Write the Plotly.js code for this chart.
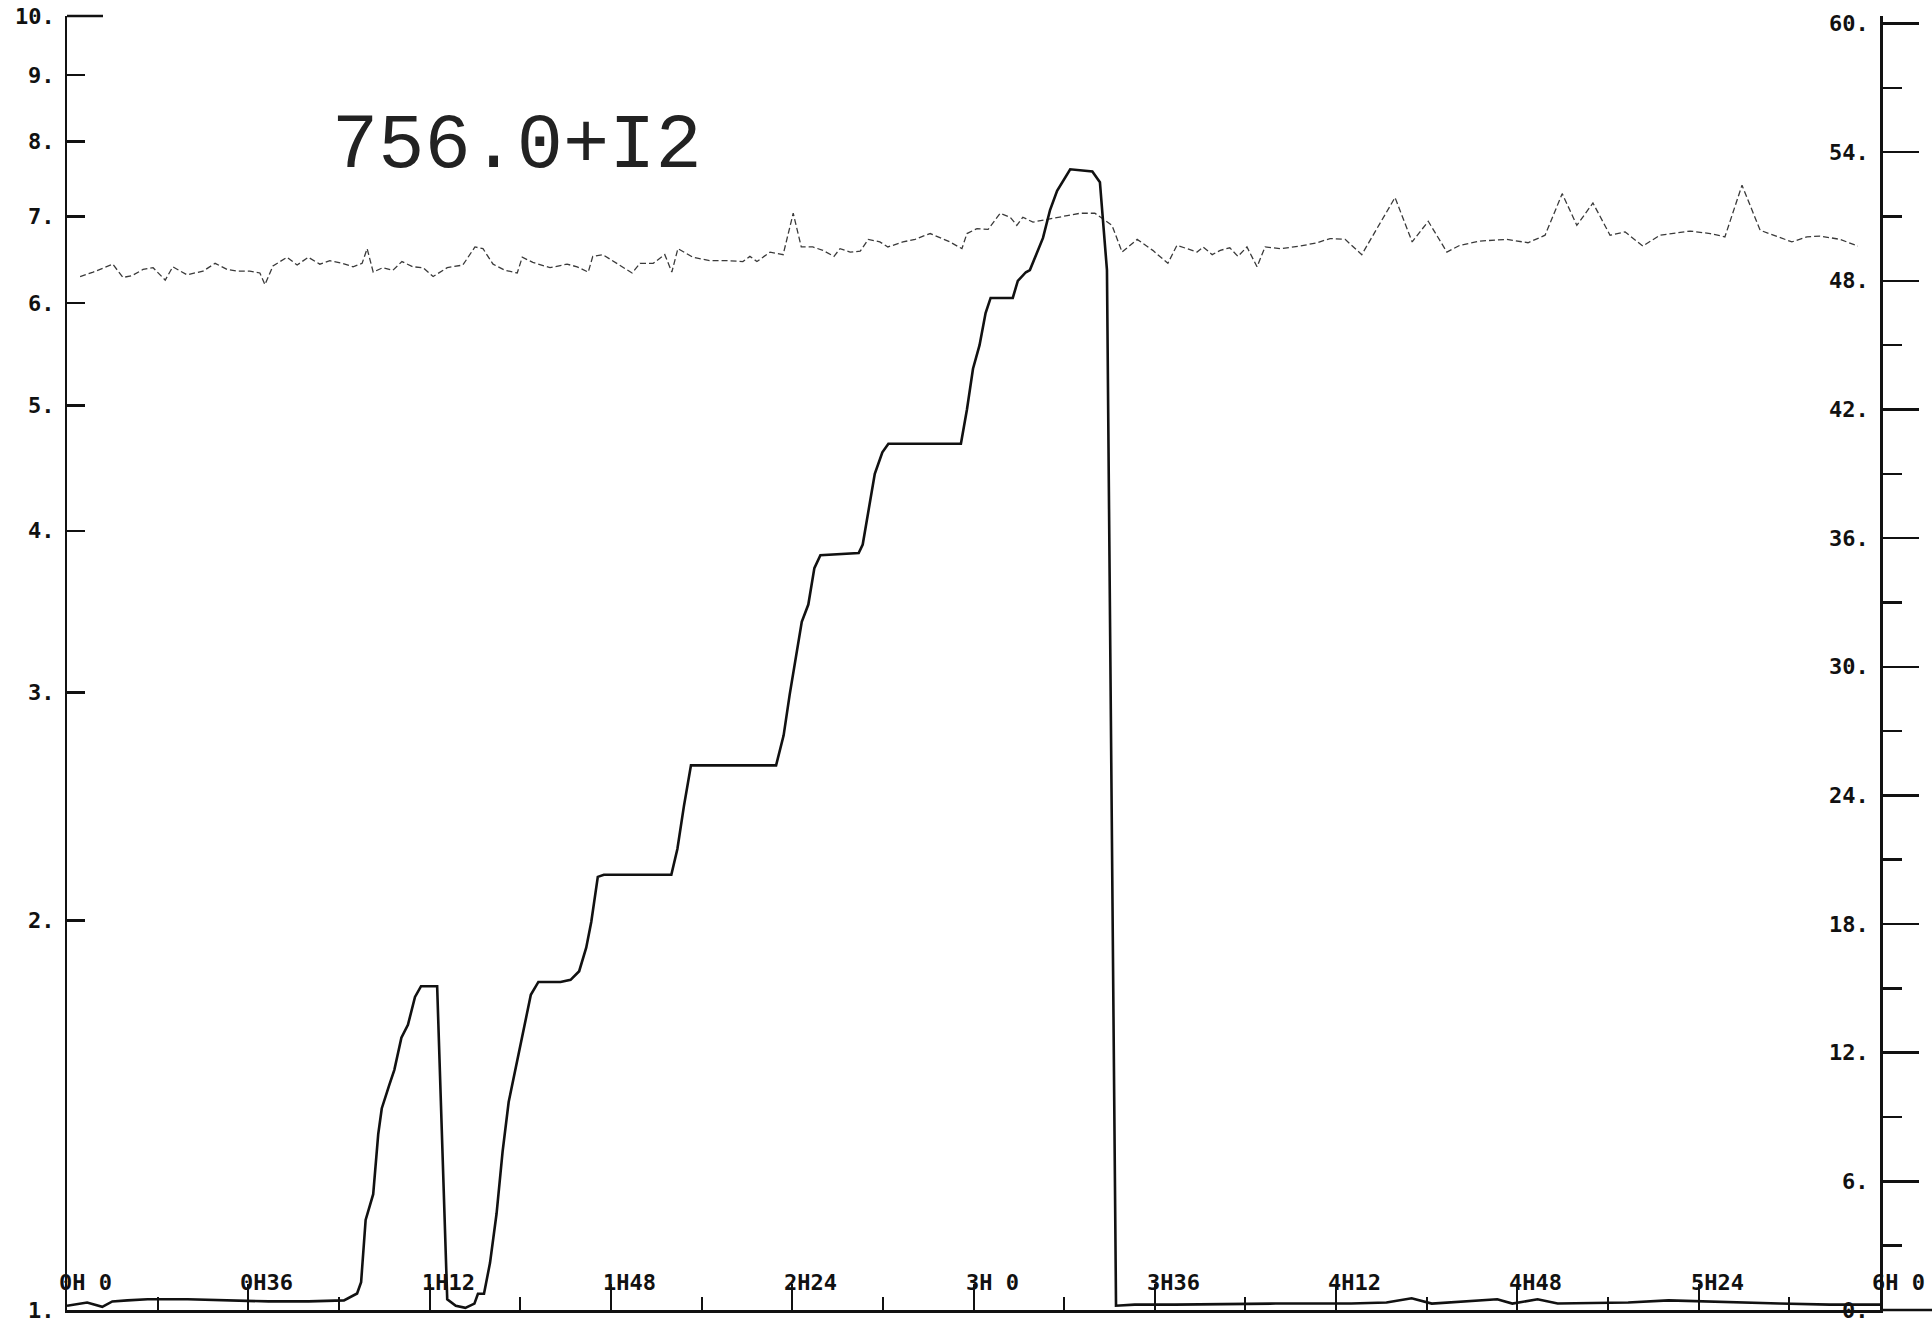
<!DOCTYPE html>
<html>
<head>
<meta charset="utf-8">
<script src="https://cdn.plot.ly/plotly-3.0.1.min.js"></script>
<style>html,body{margin:0;padding:0;background:#fff;}#chart{width:1932px;height:1326px;}</style>
</head>
<body>
<div id="chart"></div>
<script>
// Time axis (minutes) and tick labels
const timeTickVals = [0, 36, 72, 108, 144, 180, 216, 252, 288, 324, 360];
const timeTickText = ["0H 0", "0H36", "1H12", "1H48", "2H24", "3H 0", "3H36", "4H12", "4H48", "5H24", "6H 0"];

// Left (log) axis ticks
const leftTickVals = [1, 2, 3, 4, 5, 6, 7, 8, 9, 10];
const leftTickText = ["1.", "2.", "3.", "4.", "5.", "6.", "7.", "8.", "9.", "10."];

// Right (linear) axis ticks
const rightTickVals = [0, 6, 12, 18, 24, 30, 36, 42, 48, 54, 60];
const rightTickText = ["0.", "6.", "12.", "18.", "24.", "30.", "36.", "42.", "48.", "54.", "60."];

// Staircase series (right axis)
const stepTime = [0, 4, 7, 9, 12, 16, 24, 30, 40, 48, 55, 57.6, 58.4, 59.3, 60.8, 61.8, 62.5, 64.0, 65.0, 66.4, 67.7, 69.1, 70.3, 73.5, 75.5, 77.2, 79.1, 80.9, 81.6, 82.8, 84.0, 85.3, 86.5, 87.7, 89.4, 90.9, 92.1, 93.6, 98.0, 100.0, 101.7, 103.1, 104.1, 105.4, 106.6, 120.0, 121.2, 122.5, 123.9, 140.8, 142.3, 143.5, 144.7, 145.9, 147.2, 148.4, 149.6, 157.2, 158.0, 159.2, 160.4, 161.9, 163.1, 177.5, 178.7, 179.9, 181.2, 182.4, 183.4, 187.8, 188.8, 190.4, 191.2, 193.8, 195.2, 196.6, 199.2, 203.6, 205.1, 206.5, 208.3, 212, 220, 240, 255, 262, 267, 271, 280, 284, 287, 292, 296, 310, 318, 324, 330, 340, 350, 360];
const stepValue = [0.2, 0.35, 0.15, 0.4, 0.45, 0.5, 0.5, 0.45, 0.4, 0.4, 0.45, 0.77, 1.3, 4.2, 5.4, 8.2, 9.4, 10.5, 11.2, 12.7, 13.3, 14.6, 15.1, 15.1, 0.5, 0.2, 0.1, 0.3, 0.76, 0.76, 2.2, 4.5, 7.4, 9.7, 11.7, 13.4, 14.7, 15.3, 15.3, 15.4, 15.8, 16.9, 18.1, 20.2, 20.3, 20.3, 21.5, 23.5, 25.4, 25.4, 26.8, 28.7, 30.4, 32.1, 32.9, 34.6, 35.2, 35.3, 35.7, 37.4, 39.0, 40.0, 40.4, 40.4, 42.0, 43.9, 45.0, 46.5, 47.2, 47.2, 48.0, 48.4, 48.5, 50.0, 51.3, 52.2, 53.2, 53.1, 52.6, 48.5, 0.2, 0.25, 0.25, 0.3, 0.3, 0.35, 0.55, 0.3, 0.45, 0.5, 0.3, 0.5, 0.3, 0.35, 0.45, 0.4, 0.35, 0.3, 0.25, 0.25];

// Noisy series (left log axis)
const noisyTime = [2.6, 5.2, 9.1, 11.1, 12.9, 15.1, 17.1, 19.5, 21.0, 23.8, 27.0, 29.4, 31.8, 33.8, 36.3, 38.3, 39.3, 40.9, 43.7, 45.7, 47.9, 50.2, 52.2, 54.6, 56.8, 58.6, 59.6, 60.8, 62.7, 64.7, 66.5, 68.7, 70.7, 72.7, 75.5, 78.6, 81.0, 82.6, 84.6, 87.0, 89.4, 90.4, 92.5, 95.9, 99.3, 101.3, 103.5, 104.4, 106.4, 108.4, 112.2, 113.8, 116.4, 118.7, 120.1, 121.3, 124.3, 127.7, 131.1, 134.2, 135.6, 137.0, 139.6, 142.2, 144.2, 145.8, 148.1, 150.1, 152.3, 153.5, 155.5, 157.5, 159.1, 161.4, 163.0, 166.0, 168.4, 170.0, 171.4, 175.3, 177.7, 178.7, 180.7, 182.9, 185.3, 187.3, 188.6, 189.8, 191.8, 198.6, 201.2, 204.1, 207.5, 209.5, 212.5, 215.6, 218.6, 220.4, 224.4, 225.6, 227.4, 229.0, 230.9, 232.5, 234.3, 236.3, 237.9, 240.9, 244.8, 248.2, 250.8, 253.8, 257.1, 263.7, 267.1, 270.3, 274.0, 276.6, 280.6, 285.9, 290.1, 293.5, 296.9, 299.8, 303.0, 306.4, 309.4, 312.9, 316.3, 322.3, 326.3, 329.2, 332.6, 336.2, 342.5, 345.5, 348.1, 352.1, 355.6];
const noisyValue = [6.29, 6.34, 6.43, 6.28, 6.30, 6.37, 6.39, 6.25, 6.40, 6.31, 6.35, 6.44, 6.37, 6.35, 6.35, 6.33, 6.20, 6.41, 6.51, 6.42, 6.51, 6.43, 6.47, 6.44, 6.40, 6.44, 6.61, 6.34, 6.39, 6.36, 6.46, 6.40, 6.39, 6.29, 6.39, 6.42, 6.63, 6.61, 6.43, 6.36, 6.33, 6.51, 6.45, 6.39, 6.43, 6.40, 6.34, 6.52, 6.54, 6.47, 6.33, 6.44, 6.44, 6.54, 6.34, 6.61, 6.51, 6.47, 6.47, 6.46, 6.52, 6.46, 6.57, 6.54, 7.04, 6.63, 6.63, 6.59, 6.52, 6.61, 6.57, 6.58, 6.72, 6.69, 6.63, 6.69, 6.72, 6.76, 6.79, 6.69, 6.61, 6.79, 6.85, 6.84, 7.04, 6.99, 6.89, 6.99, 6.93, 7.01, 7.04, 7.04, 6.89, 6.57, 6.72, 6.59, 6.44, 6.65, 6.57, 6.63, 6.54, 6.59, 6.62, 6.52, 6.63, 6.40, 6.63, 6.61, 6.64, 6.68, 6.73, 6.72, 6.54, 7.24, 6.69, 6.94, 6.57, 6.65, 6.70, 6.72, 6.68, 6.77, 7.29, 6.89, 7.17, 6.77, 6.81, 6.64, 6.77, 6.82, 6.79, 6.75, 7.40, 6.83, 6.69, 6.75, 6.76, 6.72, 6.64];

const plotTitle = "756.0+I2";

const FONT = "DejaVu Sans Mono, monospace";
const labelFont = {family: FONT, size: 22, color: "#111", weight: "bold"};

const traces = [
  {
    x: noisyTime, y: noisyValue, yaxis: "y", type: "scatter", mode: "lines",
    line: {color: "#3a3a3a", width: 1.3, dash: "6px,3px"}, hoverinfo: "skip"
  },
  {
    x: stepTime, y: stepValue, yaxis: "y2", type: "scatter", mode: "lines",
    line: {color: "#111", width: 2.6}, hoverinfo: "skip"
  }
];

// Tick labels drawn as annotations (so the edge labels are not auto-hidden)
const annotations = [];
timeTickVals.forEach((v, i) => annotations.push({
  text: timeTickText[i], xref: "x", yref: "paper", x: v, y: 0,
  xanchor: "left", yanchor: "middle", xshift: -10, yshift: 28,
  showarrow: false, font: labelFont
}));
leftTickVals.forEach((v, i) => annotations.push({
  text: leftTickText[i], xref: "paper", yref: "y", x: 0, y: Math.log10(v),
  xanchor: "right", yanchor: "middle", xshift: -10,
  showarrow: false, font: labelFont
}));
rightTickVals.forEach((v, i) => annotations.push({
  text: rightTickText[i], xref: "paper", yref: "y2", x: 1, y: v,
  xanchor: "right", yanchor: "middle", xshift: -9,
  showarrow: false, font: labelFont
}));
annotations.push({
  text: plotTitle, xref: "paper", yref: "paper", x: 0.145, y: 0.8995, xanchor: "left", yanchor: "middle",
  showarrow: false, font: {family: "Liberation Mono, monospace", size: 77, color: "#222"}
});

const layout = {
  width: 1932, height: 1326,
  margin: {l: 67, r: 52, t: 16, b: 16, pad: 0},
  paper_bgcolor: "#fff", plot_bgcolor: "#fff",
  showlegend: false,
  font: {family: FONT, size: 20, color: "#111"},
  xaxis: {
    range: [0, 360], showgrid: false, zeroline: false,
    showline: true, linecolor: "#111", linewidth: 2.5,
    tickmode: "array", tickvals: timeTickVals, showticklabels: false,
    ticks: "inside", ticklen: 26, tickwidth: 2, tickcolor: "#111",
    minor: {ticks: "inside", ticklen: 13, tickwidth: 2, tickcolor: "#111", dtick: 18, tick0: 0, showgrid: false}
  },
  yaxis: {
    type: "log", range: [0, 1], showgrid: false, zeroline: false,
    showline: true, linecolor: "#111", linewidth: 2.5,
    tickmode: "array", tickvals: leftTickVals, showticklabels: false,
    ticks: "inside", ticklen: 18, tickwidth: 2.5, tickcolor: "#111"
  },
  yaxis2: {
    overlaying: "y", side: "right", range: [0, 60.35], showgrid: false, zeroline: false,
    showline: true, linecolor: "#111", linewidth: 2.5,
    tickmode: "array", tickvals: rightTickVals, showticklabels: false,
    ticks: "outside", ticklen: 36, tickwidth: 2.5, tickcolor: "#111",
    minor: {ticks: "outside", ticklen: 19, tickwidth: 2.5, tickcolor: "#111", dtick: 3, tick0: 0, showgrid: false}
  },
  shapes: [
    {type: "line", xref: "paper", yref: "paper", x0: 1, x1: 1.03, y0: 0, y1: 0, line: {color: "#111", width: 2.5}},
    {type: "line", xref: "paper", yref: "paper", xsizemode: "pixel", xanchor: 0, x0: 0, x1: 36, y0: 1, y1: 1, line: {color: "#111", width: 2.5}}
  ],
  annotations: annotations
};

Plotly.newPlot("chart", traces, layout, {staticPlot: true, displayModeBar: false});
</script>
</body>
</html>
